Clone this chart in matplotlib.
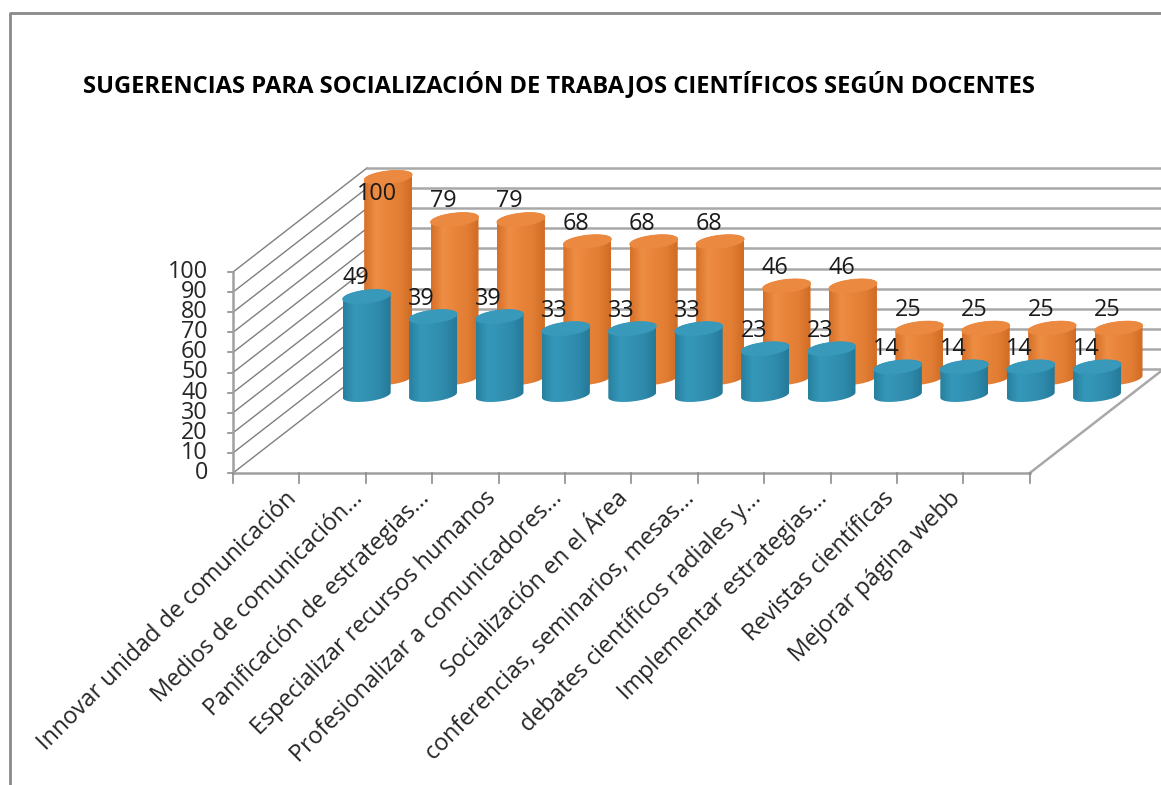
import matplotlib.pyplot as plt
import numpy as np
from matplotlib.patches import Polygon
from matplotlib.colors import LinearSegmentedColormap

# Datos del gráfico
categorias = ['Innovar unidad de comunicación', 'Medios de comunicación...',
              'Panificación de estrategias...', 'Especializar recursos humanos',
              'Profesionalizar a comunicadores...', 'Socialización en el Área',
              'conferencias, seminarios, mesas...', 'debates científicos radiales y...',
              'Implementar estrategias...', 'Revistas científicas',
              'Mejorar página webb', '']
serie_azul = [49, 39, 39, 33, 33, 33, 23, 23, 14, 14, 14, 14]
serie_naranja = [100, 79, 79, 68, 68, 68, 46, 46, 25, 25, 25, 25]
ticks_y = [0, 10, 20, 30, 40, 50, 60, 70, 80, 90, 100]
titulo = 'SUGERENCIAS PARA SOCIALIZACIÓN DE TRABAJOS CIENTÍFICOS SEGÚN DOCENTES'

plt.rcParams['font.family'] = ['Open Sans', 'DejaVu Sans']

# Geometría (pixeles del lienzo)
W, H = 1161, 785
X0, Y0 = 233, 473          # origen del eje frontal
PX_CAT = 66.4              # pixeles por categoría
PX_VAL = 2.01              # pixeles por unidad
DX = 134 / PX_CAT          # desplazamiento de profundidad (en categorías)
DY = 104 / PX_VAL          # desplazamiento de profundidad (en unidades)
RX, RZ = 0.335, 0.067      # radios del cilindro
n = len(categorias)
FS = 16.8

fig = plt.figure(figsize=(W / 100, H / 100), dpi=100)
ax = fig.add_axes([0, 0, 1, 1])
ax.axis('off')


def proy(x, v, d):
    return x + d * DX, v + d * DY


# Paredes y cuadrícula
gris = '#8c8c8c'
for v in ticks_y:
    x1, y1 = proy(0, v, 0)
    x2, y2 = proy(0, v, 1)
    x3, y3 = proy(n, v, 1)
    ax.plot([x1, x2], [y1, y2], color='#7f7f7f', lw=1, zorder=1)
    ax.plot([x2, x3], [y2, y3], color='#a8a8a8', lw=1.8, zorder=1)
    ax.plot([-0.08, 0], [v, v], color=gris, lw=1.2, zorder=1)
    ax.text(-0.38, v, str(v), ha='right', va='center', fontsize=FS, color='#262626')

xa, ya = proy(n, 0, 0)
xb, yb = proy(n, 0, 1)
ax.plot([xa, xb], [ya, yb], color='#a8a8a8', lw=1.8, zorder=1)
ax.plot([0, n], [0, 0], color='#a0a0a0', lw=1.8, zorder=1)
ax.plot([0, 0], [0, 100], color='#a0a0a0', lw=1.8, zorder=1)
for k in range(n + 1):
    ax.plot([k, k], [0, -5], color=gris, lw=1.2, zorder=1)

# Colores
cmap_azul = LinearSegmentedColormap.from_list(
    'azul', ['#277f9d', '#3598ba', '#3392b3', '#2e8aab', '#257898'])
cmap_naranja = LinearSegmentedColormap.from_list(
    'naranja', ['#d66f28', '#ee8d44', '#e8843a', '#e27d34', '#d06b24'])
gradiente = np.linspace(0, 1, 256).reshape(1, -1)


def cilindro(xc, valor, d0, cmap, c_tapa, z):
    tR = np.arctan2(RZ * DX, RX)

    def borde(t, v):
        d = d0 + RZ * np.sin(t)
        return xc + RX * np.cos(t) + d * DX, v + d * DY

    xb, yb = borde(np.linspace(tR - np.pi, tR, 80), 0)
    xt, yt = borde(np.linspace(tR, tR + np.pi, 80), valor)
    sil = np.column_stack([np.r_[xb, xt], np.r_[yb, yt]])
    poly = Polygon(sil, closed=True, facecolor='none', edgecolor='none', zorder=z)
    ax.add_patch(poly)
    im = ax.imshow(gradiente, cmap=cmap, aspect='auto', interpolation='bicubic',
                   extent=[sil[:, 0].min(), sil[:, 0].max(), sil[:, 1].min(), sil[:, 1].max()],
                   zorder=z)
    im.set_clip_path(poly)
    xe, ye = borde(np.linspace(0, 2 * np.pi, 120), valor)
    ax.add_patch(Polygon(np.column_stack([xe, ye]), closed=True, facecolor=c_tapa,
                         edgecolor=c_tapa, lw=0.6, zorder=z + 0.1))


D_NARANJA, D_AZUL = 0.91, 0.75
for k, val in enumerate(serie_naranja):
    cilindro(k + 0.5, val, D_NARANJA, cmap_naranja, '#ec8940', 3)
for k, val in enumerate(serie_azul):
    cilindro(k + 0.5, val, D_AZUL, cmap_azul, '#3899bb', 4)

# Etiquetas de datos
LABEL_TOP = 139
for serie, d0 in [(serie_naranja, D_NARANJA), (serie_azul, D_AZUL)]:
    for k, val in enumerate(serie):
        x, y = proy(k + 0.5, val, d0)
        ax.text(x - 0.17, min(y + 9, LABEL_TOP), str(val), ha='center', va='center',
                fontsize=FS, color='#1a1a1a', zorder=6)

# Etiquetas de categorías
for k, cat in enumerate(categorias):
    ax.text(k + 0.9, -11, cat, rotation=45, rotation_mode='anchor',
            ha='right', va='center', fontsize=FS, color='#262626')

# Título
fig.text(83 / W, 1 - 85 / H, titulo, fontsize=17.1, fontweight='bold', va='center',
         color='black')

# Marco exterior
ax.plot([10 / W, 10 / W, 1], [0, 1 - 13 / H, 1 - 13 / H], transform=ax.transAxes,
        color='#8a8a8a', lw=2, clip_on=False)

ax.set_xlim(-X0 / PX_CAT, (W - X0) / PX_CAT)
ax.set_ylim(-(H - Y0) / PX_VAL, Y0 / PX_VAL)

plt.savefig('out.png', dpi=100)
